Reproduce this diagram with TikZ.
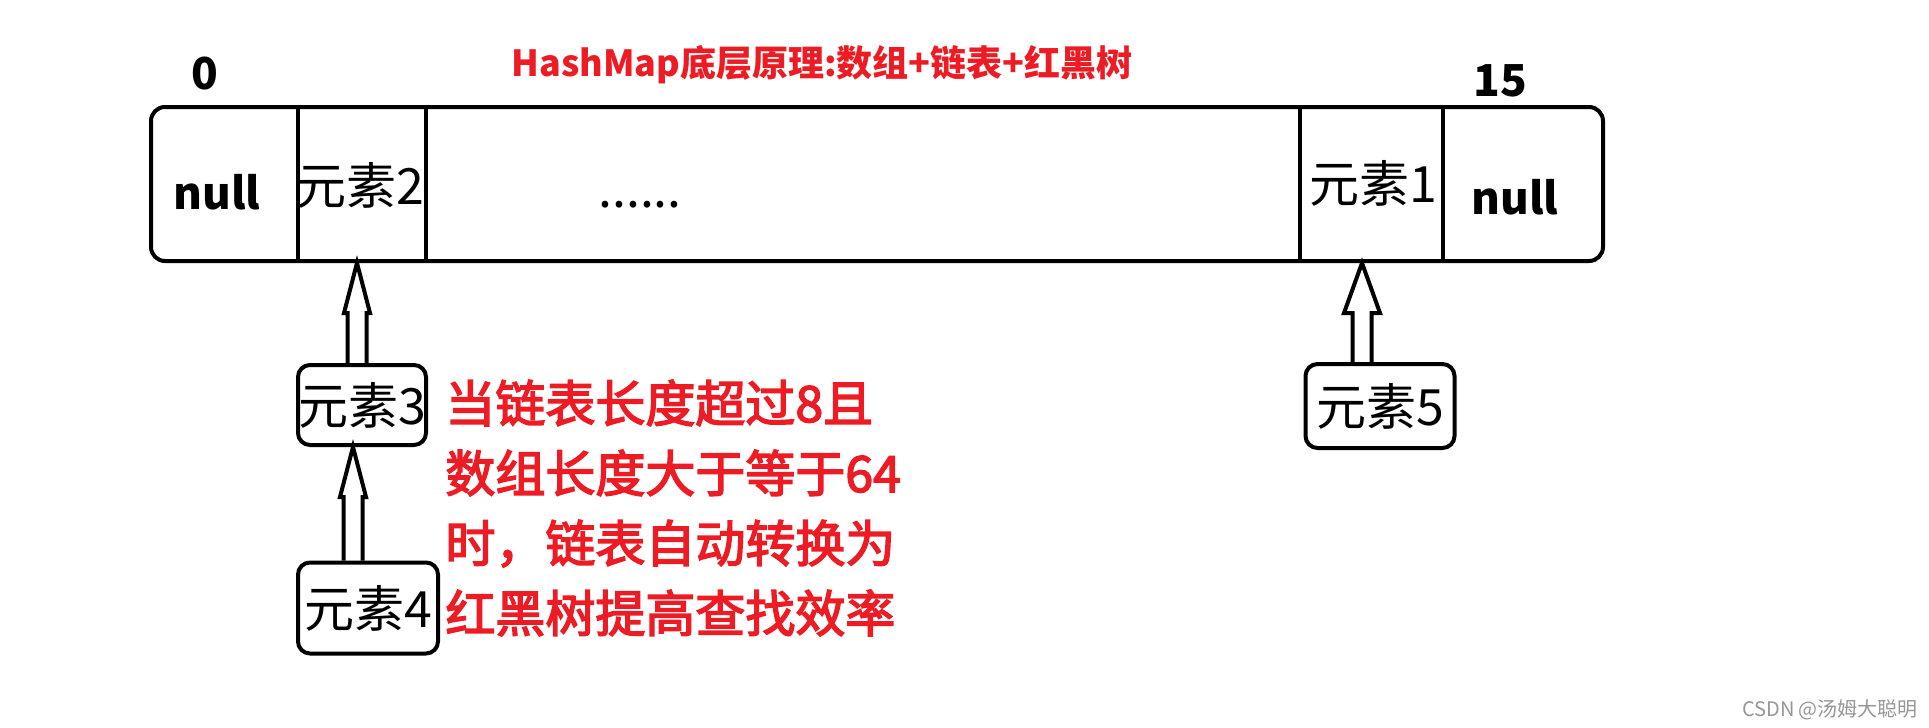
\documentclass[tikz,border=0pt]{standalone}
\usepackage{fontspec}
\setmainfont{Noto Sans CJK SC}
\newfontfamily\heavyfont{Noto Sans CJK SC}[BoldFont={Noto Sans CJK SC}, BoldFeatures={FakeBold=3}]
\usetikzlibrary{calc}

\definecolor{paintred}{RGB}{237,28,36}
\definecolor{markgray}{RGB}{150,150,150}

% hollow block arrow: [head half width]{from}{to}
\newcommand{\hollowarrow}[3][6.5pt]{%
  \draw[link] let \p1=(#2), \p2=(#3) in
    (\x1-4.75pt,\y1) -- (\x1-4.75pt,\y2-25pt) -- (\x1-#1,\y2-25pt) -- (\x1,\y2)
    -- (\x1+#1,\y2-25pt) -- (\x1+4.75pt,\y2-25pt) -- (\x1+4.75pt,\y1);}

\begin{document}
\begin{tikzpicture}[x=0.5pt, y=-0.5pt,
    border/.style={line width=2pt},
    cell/.style={inner sep=0pt, font=\fontsize{25}{30}\selectfont},
    heavy/.style={inner sep=0pt, font=\fontsize{22}{28}\selectfont\bfseries},
    elem/.style={draw, line width=2pt, rounded corners=6pt, inner sep=0pt, font=\fontsize{25}{30}\selectfont},
    link/.style={line width=2pt, line join=miter}]
    \useasboundingbox (0,0) rectangle (1929,728);
    % Title
    \node[text=paintred, inner sep=0pt, font=\fontsize{18}{22}\selectfont\bfseries] (title) at (822,65) {HashMap底层原理:数组+链表+红黑树};
    % Array of buckets
    \node[draw, border, rounded corners=7pt, minimum width=726pt, minimum height=77pt] (arr) at (877,184) {};
    \foreach \x in {298,426,1300,1443}
        \draw[border] (\x,0 |- arr.north) -- (\x,0 |- arr.south);
    \node[heavy] (i0) at (205,74) {0};
    \node[heavy] (i15) at (1500,81) {15};
    \node[heavy] (c0) at (217,192) {null};
    \node[cell] (c1) at (360,185) {元素2};
    \node[cell] (gap) at (640,205) {......};
    \node[cell] (c14) at (1373,183) {元素1};
    \node[heavy] (c15) at (1515,197) {null};
    % Chained elements
    \node[elem, minimum width=64pt, minimum height=40pt] (e3) at (362,405) {元素3};
    \node[elem, minimum width=70pt, minimum height=45.5pt] (e4) at (368,608) {元素4};
    \node[elem, minimum width=74.5pt, minimum height=42pt] (e5) at (1380,406) {元素5};
    \hollowarrow{$(e3.north)+(-5,0)$}{arr.south}
    \hollowarrow{$(e4.north)+(-15,0)$}{e3.south}
    \hollowarrow[9pt]{$(e5.north)+(-18,0)$}{arr.south}
    % Note
    \node[text=paintred, inner sep=0pt, font=\fontsize{25}{35}\selectfont\heavyfont\bfseries, align=left, anchor=west] (note) at (445,508)
        {当链表长度超过8且\\数组长度大于等于64\\时，链表自动转换为\\红黑树提高查找效率};
    \node[text=markgray, font=\fontsize{10}{12}\selectfont] (mark) at (1830,710) {CSDN @汤姆大聪明};
\end{tikzpicture}
\end{document}
